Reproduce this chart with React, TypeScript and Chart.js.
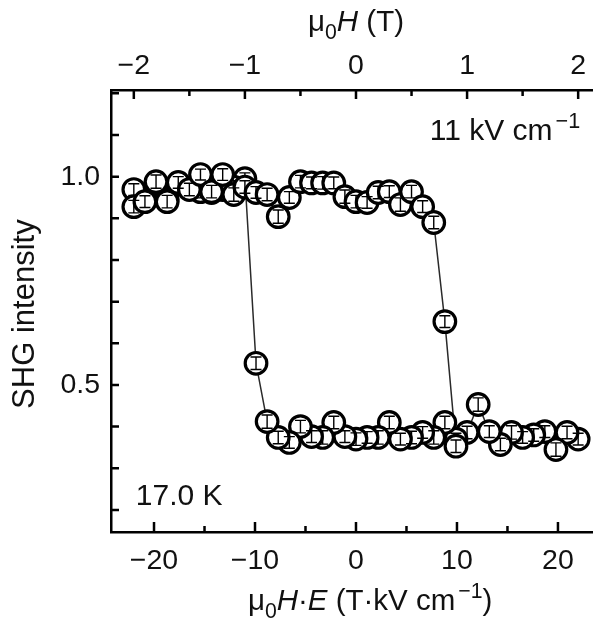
import React, { useEffect, useRef } from 'react';
import { Chart, registerables } from 'chart.js';

Chart.register(...registerables);

const FONT = '"Liberation Sans", Arial, Helvetica, sans-serif';

// Sweep from positive to negative field (mu0H*E, T·kV/cm)
const sweepDownX = [22, 20.9, 19.8, 18.7, 17.6, 16.5, 15.4, 14.3, 13.2, 12.1, 11, 9.9, 8.8, 7.7, 6.6, 5.5, 4.4, 3.3, 2.2, 1.1, 0, -1.1, -2.2, -3.3, -4.4, -5.5, -6.6, -7.7, -8.8, -9.9, -11, -12.1, -13.2, -14.3, -15.4, -16.5, -17.6, -18.7, -19.8, -20.9, -22];
const sweepDownY = [0.37, 0.386, 0.345, 0.388, 0.38, 0.374, 0.386, 0.357, 0.388, 0.453, 0.386, 0.37, 0.41, 0.374, 0.386, 0.374, 0.37, 0.41, 0.374, 0.374, 0.37, 0.376, 0.41, 0.374, 0.376, 0.4, 0.362, 0.374, 0.412, 0.552, 0.995, 0.975, 0.969, 0.962, 0.964, 0.972, 0.983, 0.945, 0.985, 0.942, 0.969];
const sweepDownErr = [0.014, 0.015, 0.016, 0.014, 0.015, 0.014, 0.016, 0.015, 0.014, 0.016, 0.015, 0.014, 0.015, 0.016, 0.014, 0.015, 0.014, 0.015, 0.016, 0.014, 0.015, 0.014, 0.015, 0.016, 0.014, 0.015, 0.014, 0.015, 0.016, 0.015, 0.014, 0.015, 0.016, 0.014, 0.015, 0.014, 0.015, 0.016, 0.014, 0.015, 0.014];

// Sweep from negative to positive field
const sweepUpX = [-22, -20.9, -19.8, -18.7, -17.6, -16.5, -15.4, -14.3, -13.2, -12.1, -11, -9.9, -8.8, -7.7, -6.6, -5.5, -4.4, -3.3, -2.2, -1.1, 0, 1.1, 2.2, 3.3, 4.4, 5.5, 6.6, 7.7, 8.8, 9.9];
const sweepUpY = [0.928, 0.94, 0.988, 0.94, 0.986, 0.969, 1.005, 0.964, 1.005, 0.957, 0.975, 0.962, 0.957, 0.904, 0.95, 0.988, 0.985, 0.985, 0.985, 0.952, 0.94, 0.938, 0.962, 0.964, 0.933, 0.964, 0.928, 0.89, 0.652, 0.353];
const sweepUpErr = [0.015, 0.014, 0.016, 0.015, 0.014, 0.015, 0.013, 0.015, 0.014, 0.016, 0.015, 0.014, 0.015, 0.016, 0.014, 0.015, 0.014, 0.015, 0.014, 0.016, 0.015, 0.014, 0.015, 0.014, 0.016, 0.015, 0.014, 0.015, 0.014, 0.015];

const bottomTickLabels = [-20, -10, 0, 10, 20];
const bottomTickMarks = [-20, -15, -10, -5, 0, 5, 10, 15, 20];
const topTickLabels = [-2, -1, 0, 1, 2];
const topTickMarks = [-2, -1.5, -1, -0.5, 0, 0.5, 1, 1.5, 2];
const yTickLabels = [0.5, 1.0];
const yTickMarks = [0.2, 0.3, 0.4, 0.5, 0.6, 0.7, 0.8, 0.9, 1.0, 1.1, 1.2];

const X_MIN = -24.26;
const X_MAX = 23.47;
const X2_MIN = -2.2055;
const X2_MAX = 2.1336;
const Y_MIN = 0.147;
const Y_MAX = 1.208;

const TICK_SIZE = 28.5;
const TITLE_SIZE = 29.5;
const YTITLE_SIZE = 31;
const NOTE_SIZE = 30;

type Seg = { t: string; it?: boolean; sub?: boolean; sup?: boolean; gap?: number };

const segFont = (s: Seg, size: number) => {
  const sz = s.sub || s.sup ? size * 0.72 : size;
  return `${s.it ? 'italic ' : ''}${sz}px ${FONT}`;
};

const richWidth = (ctx: CanvasRenderingContext2D, segs: Seg[], size: number) => {
  let w = 0;
  for (const s of segs) {
    ctx.font = segFont(s, size);
    w += ctx.measureText(s.t).width + (s.gap || 0);
  }
  return w;
};

const drawRich = (
  ctx: CanvasRenderingContext2D,
  segs: Seg[],
  x: number,
  y: number,
  size: number,
  align: 'left' | 'center' | 'right'
) => {
  const w = richWidth(ctx, segs, size);
  let cx = align === 'left' ? x : align === 'center' ? x - w / 2 : x - w;
  ctx.textAlign = 'left';
  ctx.textBaseline = 'alphabetic';
  for (const s of segs) {
    ctx.font = segFont(s, size);
    const dy = s.sub ? size * 0.26 : s.sup ? -size * 0.4 : 0;
    ctx.fillText(s.t, cx, y + dy);
    cx += ctx.measureText(s.t).width + (s.gap || 0);
  }
};

const fmtSigned = (v: number) => (v < 0 ? '\u2212' + Math.abs(v) : String(v));

const decorPlugin = {
  id: 'decor',
  afterDraw(chart: any) {
    const ctx: CanvasRenderingContext2D = chart.ctx;
    const xs = chart.scales.x;
    const x2 = chart.scales.x2;
    const ys = chart.scales.y;
    const area = chart.chartArea;
    ctx.save();
    ctx.strokeStyle = '#000';
    ctx.fillStyle = '#111';
    ctx.lineWidth = 2.5;
    ctx.lineCap = 'butt';
    // inward tick marks
    ctx.beginPath();
    for (const v of bottomTickMarks) {
      const px = xs.getPixelForValue(v);
      const len = bottomTickLabels.includes(v) ? 10 : 6;
      ctx.moveTo(px, area.bottom);
      ctx.lineTo(px, area.bottom - len);
    }
    for (const v of topTickMarks) {
      const px = x2.getPixelForValue(v);
      const len = topTickLabels.includes(v) ? 9 : 6;
      ctx.moveTo(px, area.top);
      ctx.lineTo(px, area.top + len);
    }
    for (const v of yTickMarks) {
      const py = ys.getPixelForValue(v);
      ctx.moveTo(area.left, py);
      ctx.lineTo(area.left + 8, py);
    }
    ctx.stroke();

    // axis titles
    const x0 = x2.getPixelForValue(0);
    drawRich(ctx, [{ t: '\u03bc' }, { t: '0', sub: true }, { t: 'H', it: true }, { t: ' (T)' }], x0, area.top - 59, TITLE_SIZE, 'center');
    drawRich(
      ctx,
      [
        { t: '\u03bc' },
        { t: '0', sub: true },
        { t: 'H', it: true },
        { t: '\u00b7' },
        { t: 'E', it: true },
        { t: ' (T\u00b7kV cm', gap: 3 },
        { t: '\u22121', sup: true },
        { t: ')' },
      ],
      xs.getPixelForValue(1.4),
      area.bottom + 78,
      TITLE_SIZE,
      'center'
    );
    ctx.save();
    ctx.translate(34, ys.getPixelForValue(0.67));
    ctx.rotate(-Math.PI / 2);
    drawRich(ctx, [{ t: 'SHG intensity' }], 0, 0, YTITLE_SIZE, 'center');
    ctx.restore();

    // annotations
    drawRich(ctx, [{ t: '11 kV cm', gap: 3 }, { t: '\u22121', sup: true }], xs.getPixelForValue(22.2), ys.getPixelForValue(1.088), NOTE_SIZE, 'right');
    drawRich(ctx, [{ t: '17.0 K' }], xs.getPixelForValue(-21.8), ys.getPixelForValue(0.212), NOTE_SIZE, 'left');
    ctx.restore();
  },
  afterDatasetDraw(chart: any, args: any) {
    const ds: any = chart.data.datasets[args.index];
    if (!ds.errors) return;
    const meta = chart.getDatasetMeta(args.index);
    const ys = chart.scales.y;
    const ctx: CanvasRenderingContext2D = chart.ctx;
    ctx.save();
    ctx.strokeStyle = '#000';
    ctx.lineWidth = 1.4;
    ctx.beginPath();
    meta.data.forEach((pt: any, i: number) => {
      const v = ds.data[i].y;
      const e = ds.errors[i];
      const yTop = ys.getPixelForValue(v + e);
      const yBot = ys.getPixelForValue(v - e);
      const px = pt.x;
      ctx.moveTo(px, yTop);
      ctx.lineTo(px, yBot);
      ctx.moveTo(px - 5.5, yTop);
      ctx.lineTo(px + 5.5, yTop);
      ctx.moveTo(px - 5.5, yBot);
      ctx.lineTo(px + 5.5, yBot);
    });
    ctx.stroke();
    ctx.restore();
  },
};

const toPoints = (xs: number[], ys: number[]) => xs.map((x, i) => ({ x, y: ys[i] }));

export default function App() {
  const ref = useRef<HTMLCanvasElement | null>(null);

  useEffect(() => {
    if (!ref.current) return;
    const downPts = toPoints(sweepDownX, sweepDownY);
    const upPts = toPoints(sweepUpX, sweepUpY);
    const lineStyle = {
      showLine: true,
      borderColor: '#2a2a2a',
      borderWidth: 1.5,
      pointRadius: 0,
      pointHoverRadius: 0,
      fill: false,
      tension: 0,
      order: 5,
    };
    const pointStyle = {
      showLine: false,
      pointRadius: 10.8,
      pointHoverRadius: 10.8,
      pointBackgroundColor: '#ffffff',
      pointBorderColor: '#000000',
      pointBorderWidth: 3.2,
      order: 1,
    };
    const chart = new Chart(ref.current, {
      type: 'scatter',
      data: {
        datasets: [
          { ...lineStyle, data: downPts },
          { ...lineStyle, data: upPts },
          { ...pointStyle, data: downPts, errors: sweepDownErr, order: 2 } as any,
          { ...pointStyle, data: upPts, errors: sweepUpErr, order: 1 } as any,
        ],
      },
      options: {
        responsive: false,
        animation: false,
        devicePixelRatio: 1,
        layout: { padding: 0, autoPadding: false },
        plugins: { legend: { display: false }, tooltip: { enabled: false } },
        scales: {
          x: {
            type: 'linear',
            position: 'bottom',
            min: X_MIN,
            max: X_MAX,
            grid: { display: false, drawTicks: false },
            border: { display: true, color: '#000', width: 2.5 },
            afterBuildTicks: (s: any) => {
              s.ticks = bottomTickLabels.map((v) => ({ value: v }));
            },
            afterFit: (s: any) => {
              s.height = 92;
              s.paddingLeft = 0;
              s.paddingRight = 0;
            },
            ticks: {
              padding: 12,
              maxRotation: 0,
              color: '#111',
              font: { family: FONT, size: TICK_SIZE },
              callback: (v: any) => fmtSigned(Number(v)),
            },
          },
          x2: {
            type: 'linear',
            axis: 'x',
            position: 'top',
            min: X2_MIN,
            max: X2_MAX,
            grid: { display: false, drawTicks: false },
            border: { display: true, color: '#000', width: 2.5 },
            afterBuildTicks: (s: any) => {
              s.ticks = topTickLabels.map((v) => ({ value: v }));
            },
            afterFit: (s: any) => {
              s.height = 90;
              s.paddingLeft = 0;
              s.paddingRight = 0;
            },
            ticks: {
              padding: 7,
              maxRotation: 0,
              color: '#111',
              font: { family: FONT, size: TICK_SIZE },
              callback: (v: any) => fmtSigned(Number(v)),
            },
          },
          y: {
            type: 'linear',
            position: 'left',
            min: Y_MIN,
            max: Y_MAX,
            grid: { display: false, drawTicks: false },
            border: { display: true, color: '#000', width: 2.5 },
            afterBuildTicks: (s: any) => {
              s.ticks = yTickLabels.map((v) => ({ value: v }));
            },
            afterFit: (s: any) => {
              s.width = 111;
              s.paddingTop = 0;
              s.paddingBottom = 0;
            },
            ticks: {
              padding: 11,
              color: '#111',
              font: { family: FONT, size: TICK_SIZE },
              callback: (v: any) => Number(v).toFixed(1),
            },
          },
        },
      } as any,
      plugins: [decorPlugin],
    });
    return () => chart.destroy();
  }, []);

  return (
    <div style={{ position: 'fixed', left: 0, top: 0, width: 593, height: 624, background: '#fff' }}>
      <canvas ref={ref} width={593} height={624} style={{ display: 'block' }} />
    </div>
  );
}
